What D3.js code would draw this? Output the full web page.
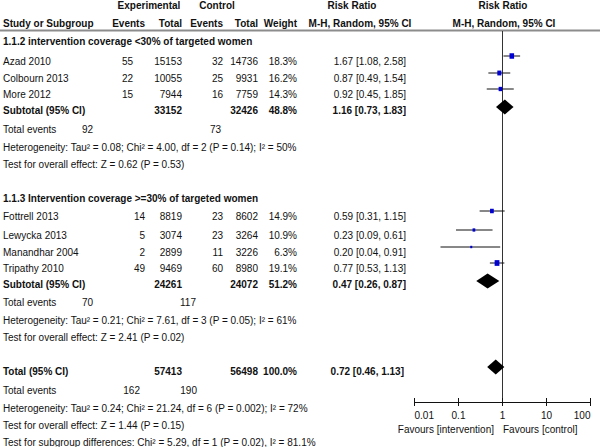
<!DOCTYPE html>
<html>
<head>
<meta charset="utf-8">
<script src="https://cdn.jsdelivr.net/npm/d3@7"></script>
<style>
  html, body { margin: 0; padding: 0; background: #fff; }
  svg { display: block; font-family: "Liberation Sans", Arial, Helvetica, sans-serif; }
  text { fill: #111; font-size: 10px; }
  .b { font-weight: bold; }
</style>
</head>
<body>
<div id="chart"></div>
<script>
// ---------------- data ----------------
const studies = ["Azad 2010", "Colbourn 2013", "More 2012", "Fottrell 2013", "Lewycka 2013", "Manandhar 2004", "Tripathy 2010"];
const studyGroup = [0, 0, 0, 1, 1, 1, 1];
const expEvents = [55, 22, 15, 14, 5, 2, 49];
const expTotal = [15153, 10055, 7944, 8819, 3074, 2899, 9469];
const ctrlEvents = [32, 25, 16, 23, 23, 11, 60];
const ctrlTotal = [14736, 9931, 7759, 8602, 3264, 3226, 8980];
const weights = [18.3, 16.2, 14.3, 14.9, 10.9, 6.3, 19.1];
const riskRatio = [1.67, 0.87, 0.92, 0.59, 0.23, 0.20, 0.77];
const ciLow = [1.08, 0.49, 0.45, 0.31, 0.09, 0.04, 0.53];
const ciHigh = [2.58, 1.54, 1.85, 1.15, 0.61, 0.91, 1.13];

const subgroupLabels = ["1.1.2 intervention coverage <30% of targeted women", "1.1.3 Intervention coverage >=30% of targeted women"];
const subExpTotal = [33152, 24261];
const subCtrlTotal = [32426, 24072];
const subWeight = [48.8, 51.2];
const subRR = [1.16, 0.47];
const subLow = [0.73, 0.26];
const subHigh = [1.83, 0.87];
const subExpEvents = [92, 70];
const subCtrlEvents = [73, 117];
const subHet = ["Heterogeneity: Tau\u00B2 = 0.08; Chi\u00B2 = 4.00, df = 2 (P = 0.14); I\u00B2 = 50%",
                "Heterogeneity: Tau\u00B2 = 0.21; Chi\u00B2 = 7.61, df = 3 (P = 0.05); I\u00B2 = 61%"];
const subTest = ["Test for overall effect: Z = 0.62 (P = 0.53)", "Test for overall effect: Z = 2.41 (P = 0.02)"];

const totalExpTotal = 57413, totalCtrlTotal = 56498, totalWeight = 100.0;
const totalRR = 0.72, totalLow = 0.46, totalHigh = 1.13;
const totalExpEvents = 162, totalCtrlEvents = 190;
const totalHet = "Heterogeneity: Tau\u00B2 = 0.24; Chi\u00B2 = 21.24, df = 6 (P = 0.002); I\u00B2 = 72%";
const totalTest = "Test for overall effect: Z = 1.44 (P = 0.15)";
const subgroupTest = "Test for subgroup differences: Chi\u00B2 = 5.29, df = 1 (P = 0.02), I\u00B2 = 81.1%";

const tickValues = [0.01, 0.1, 1, 10, 100];
const tickLabels = ["0.01", "0.1", "1", "10", "100"];
const favourLabels = ["Favours [intervention]", "Favours [control]"];

// ---------------- layout ----------------
const W = 600, H = 447;
const svg = d3.select("#chart").append("svg").attr("width", W).attr("height", H);

// text-centre y of each row
const studyY = [61, 78, 94, 216, 235, 252, 268];
const sectionY = [41, 198];
const subtotalY = [110, 284];
const subEventsY = [129, 302];
const subHetY = [147, 320];
const subTestY = [164, 337];
const totalY = 371, totalEventsY = 390, totalHetY = 408, totalTestY = 425, subgroupTestY = 442;

const col = { study: 3, expEv: [133, 145], expTot: 182, ctlEv: 223, ctlTot: 258, weight: 297, rrText: 406 };
const BASE = 3.6; // centre -> baseline

const x = d3.scaleLog().domain([0.01, 100]).range([414, 590]);
const axisY = 402;
const fmt2 = d3.format(".2f");
const ciText = (r, l, h) => `${fmt2(r)} [${fmt2(l)}, ${fmt2(h)}]`;

function txt(str, xx, yc, anchor, bold) {
  return svg.append("text").attr("x", xx).attr("y", yc + BASE)
    .attr("text-anchor", anchor || "start").attr("class", bold ? "b" : null).text(str);
}

// headers
txt("Experimental", 149, 5, "middle", true);
txt("Control", 217, 5, "middle", true);
txt("Risk Ratio", 352, 5, "middle", true);
txt("Risk Ratio", 503, 5, "middle", true);
txt("Study or Subgroup", col.study, 23, "start", true);
txt("Events", 145, 23, "end", true);
txt("Total", col.expTot, 23, "end", true);
txt("Events", col.ctlEv, 23, "end", true);
txt("Total", col.ctlTot, 23, "end", true);
txt("Weight", col.weight, 23, "end", true);
txt("M-H, Random, 95% CI", 360, 23, "middle", true);
txt("M-H, Random, 95% CI", 504, 23, "middle", true);
svg.append("line").attr("x1", 0).attr("x2", W).attr("y1", 30.5).attr("y2", 30.5)
  .attr("stroke", "#8c8c8c").attr("stroke-width", 2);

// reference line at RR = 1
svg.append("line").attr("x1", Math.round(x(1)) + 0.5).attr("x2", Math.round(x(1)) + 0.5)
  .attr("y1", 31).attr("y2", axisY).attr("stroke", "#333").attr("stroke-width", 1);

// study rows
studies.forEach((s, i) => {
  const y = studyY[i], g = studyGroup[i];
  txt(s, col.study, y);
  txt(expEvents[i], col.expEv[g], y, "end");
  txt(expTotal[i], col.expTot, y, "end");
  txt(ctrlEvents[i], col.ctlEv, y, "end");
  txt(ctrlTotal[i], col.ctlTot, y, "end");
  txt(weights[i].toFixed(1) + "%", col.weight, y, "end");
  txt(ciText(riskRatio[i], ciLow[i], ciHigh[i]), col.rrText, y, "end");
});

const markY = studyY.map(v => v - 5.5);
svg.selectAll("line.ci").data(studies).enter().append("line").attr("class", "ci")
  .attr("x1", (d, i) => x(ciLow[i])).attr("x2", (d, i) => x(ciHigh[i]))
  .attr("y1", (d, i) => markY[i] + 0.5).attr("y2", (d, i) => markY[i] + 0.5)
  .attr("stroke", "#111").attr("stroke-width", 1);
const sq = w => Math.max(2, w / 4);
svg.selectAll("rect.pt").data(studies).enter().append("rect").attr("class", "pt")
  .attr("x", (d, i) => x(riskRatio[i]) - sq(weights[i]) / 2)
  .attr("y", (d, i) => markY[i] + 0.5 - sq(weights[i]) * 0.6)
  .attr("width", (d, i) => sq(weights[i]))
  .attr("height", (d, i) => sq(weights[i]) * 1.2)
  .attr("fill", "#0000d0");

function diamond(r, l, h, yc) {
  const hh = 7.5;
  svg.append("path")
    .attr("d", `M${x(l)},${yc} L${x(r)},${yc - hh} L${x(h)},${yc} L${x(r)},${yc + hh} Z`)
    .attr("fill", "#000");
}

// subgroup rows
subgroupLabels.forEach((lab, g) => {
  txt(lab, col.study, sectionY[g], "start", true);
  const y = subtotalY[g];
  txt("Subtotal (95% CI)", col.study, y, "start", true);
  txt(subExpTotal[g], col.expTot, y, "end", true);
  txt(subCtrlTotal[g], col.ctlTot, y, "end", true);
  txt(subWeight[g].toFixed(1) + "%", col.weight, y, "end", true);
  txt(ciText(subRR[g], subLow[g], subHigh[g]), col.rrText, y, "end", true);
  diamond(subRR[g], subLow[g], subHigh[g], y - 3);
  txt("Total events", col.study, subEventsY[g]);
  txt(subExpEvents[g], 93, subEventsY[g], "end");
  txt(subCtrlEvents[g], g === 0 ? 221 : 196, subEventsY[g], "end");
  txt(subHet[g], col.study, subHetY[g]);
  txt(subTest[g], col.study, subTestY[g]);
});

// overall
txt("Total (95% CI)", col.study, totalY, "start", true);
txt(totalExpTotal, col.expTot, totalY, "end", true);
txt(totalCtrlTotal, col.ctlTot, totalY, "end", true);
txt(totalWeight.toFixed(1) + "%", col.weight, totalY, "end", true);
txt(ciText(totalRR, totalLow, totalHigh), 404, totalY, "end", true);
diamond(totalRR, totalLow, totalHigh, totalY - 4);
txt("Total events", col.study, totalEventsY);
txt(totalExpEvents, 140, totalEventsY, "end");
txt(totalCtrlEvents, 197, totalEventsY, "end");
txt(totalHet, col.study, totalHetY);
txt(totalTest, col.study, totalTestY);
txt(subgroupTest, col.study, subgroupTestY);

// axis
const axis = d3.axisBottom(x).tickValues(tickValues)
  .tickFormat((d, i) => tickLabels[i]).tickSizeOuter(0).tickSizeInner(4).tickPadding(6);
const ag = svg.append("g").attr("transform", `translate(0,${axisY})`).call(axis);
ag.select(".domain").attr("stroke", "#111");
ag.selectAll(".tick line").attr("y1", -4).attr("y2", 4).attr("stroke", "#111");
ag.selectAll(".tick text").attr("font-size", 10).attr("fill", "#111")
  .attr("font-family", "Liberation Sans, Arial, sans-serif")
  .attr("text-anchor", (d, i) => i === 0 ? "start" : (i === tickValues.length - 1 ? "end" : "middle"));

txt(favourLabels[0], 494, 429.5, "end");
txt(favourLabels[1], 503, 429.5, "start");
</script>
</body>
</html>
